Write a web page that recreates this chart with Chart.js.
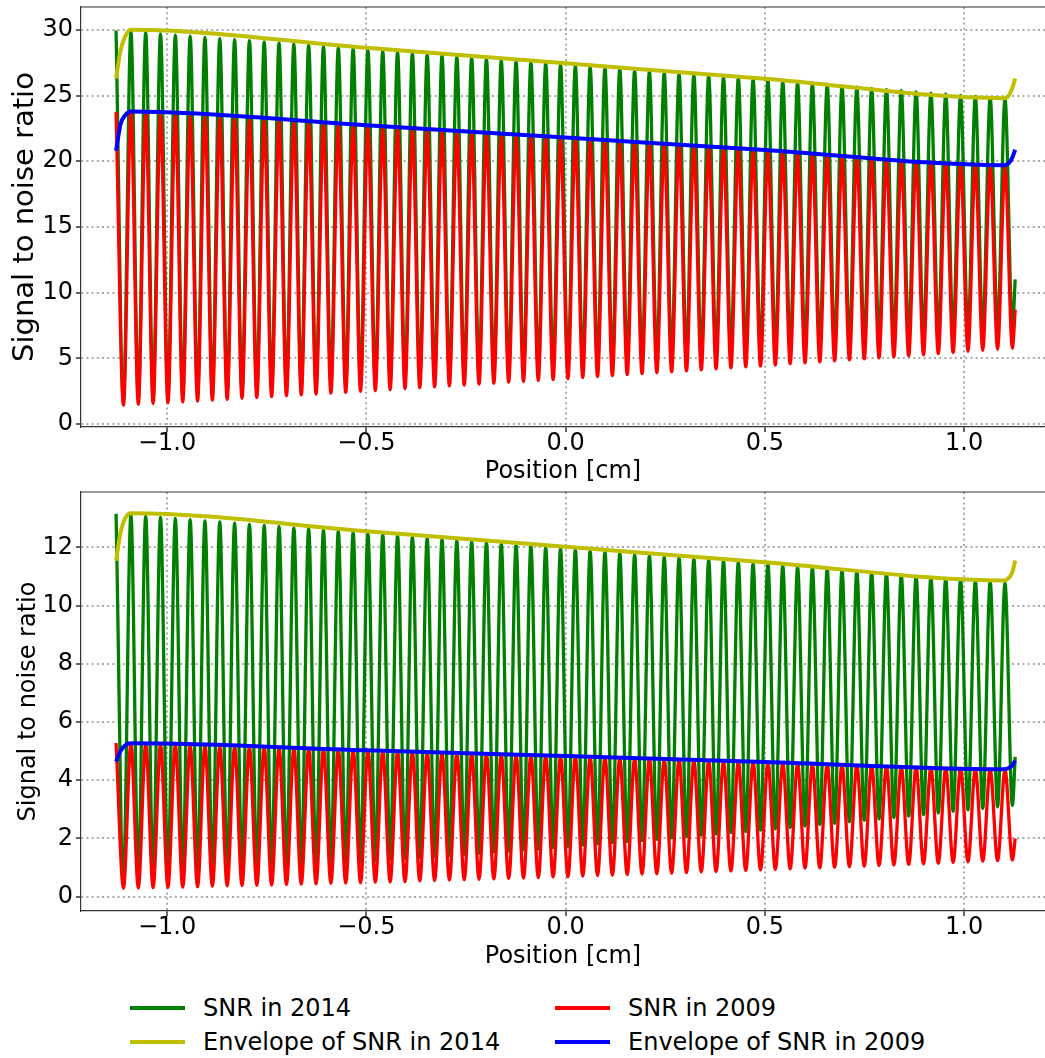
<!DOCTYPE html>
<html>
<head>
<meta charset="utf-8">
<title>Signal to noise ratio along position</title>
<script src="https://cdn.jsdelivr.net/npm/chart.js@4.4.1/dist/chart.umd.min.js"></script>
<style>
  body { margin: 0; background: #fff; overflow: hidden; font-family: "DejaVu Sans", sans-serif; }
  #wrap { position: relative; width: 1045px; height: 1058px; }
  canvas { position: absolute; left: 0; }
  #topPanel { top: 0; }
  #bottomPanel { top: 485px; }
  .item { position: absolute; height: 30px; line-height: 30px; font-size: 24px; color: #000; white-space: nowrap; }
  .swatch { position: absolute; left: 0; width: 55px; }
  .label { position: absolute; left: 73px; top: 0; }
</style>
</head>
<body>
<div id="wrap">
  <canvas id="topPanel" width="1045" height="485"></canvas>
  <canvas id="bottomPanel" width="1045" height="490"></canvas>
  <div id="legend"></div>
</div>
<script>
// positions [cm] of the maxima and minima of the oscillation
const peakX = [
  -1.1280,-1.0908,-1.0537,-1.0165,-0.9793,-0.9421,-0.9050,-0.8678,-0.8306,-0.7934,
  -0.7563,-0.7191,-0.6819,-0.6448,-0.6076,-0.5704,-0.5332,-0.4961,-0.4589,-0.4217,
  -0.3845,-0.3474,-0.3102,-0.2730,-0.2358,-0.1987,-0.1615,-0.1243,-0.0872,-0.0500,
  -0.0128,0.0244,0.0615,0.0987,0.1359,0.1731,0.2102,0.2474,0.2846,0.3217,
  0.3589,0.3961,0.4333,0.4704,0.5076,0.5448,0.5820,0.6191,0.6563,0.6935,
  0.7307,0.7678,0.8050,0.8422,0.8793,0.9165,0.9537,0.9909,1.0280,1.0652,
  1.1024
];
const troughX = [
  -1.1094,-1.0722,-1.0351,-0.9979,-0.9607,-0.9235,-0.8864,-0.8492,-0.8120,-0.7749,
  -0.7377,-0.7005,-0.6633,-0.6262,-0.5890,-0.5518,-0.5146,-0.4775,-0.4403,-0.4031,
  -0.3660,-0.3288,-0.2916,-0.2544,-0.2173,-0.1801,-0.1429,-0.1057,-0.0686,-0.0314,
  0.0058,0.0430,0.0801,0.1173,0.1545,0.1917,0.2288,0.2660,0.3032,0.3403,
  0.3775,0.4147,0.4519,0.4890,0.5262,0.5634,0.6006,0.6377,0.6749,0.7121,
  0.7493,0.7864,0.8236,0.8608,0.8979,0.9351,0.9723,1.0095,1.0466,1.0838,
  1.1210
];
const endX = 1.128;

// upper panel
const snr2014TopPeaks = [
  29.95,29.86,29.78,29.69,29.60,29.52,29.43,29.34,29.26,29.17,
  29.09,29.00,28.91,28.83,28.74,28.65,28.57,28.48,28.39,28.31,
  28.22,28.13,28.05,27.96,27.87,27.79,27.70,27.61,27.53,27.44,
  27.36,27.27,27.18,27.10,27.01,26.92,26.84,26.75,26.66,26.58,
  26.49,26.40,26.32,26.23,26.14,26.06,25.97,25.88,25.80,25.71,
  25.63,25.54,25.45,25.37,25.28,25.19,25.11,25.02,24.93,24.85,
  24.76
];
const snr2014TopTroughs = [
  1.80,1.89,1.97,2.04,2.13,2.21,2.29,2.37,2.46,2.53,
  2.62,2.71,2.78,2.87,2.96,3.04,3.12,3.21,3.30,3.39,
  3.48,3.55,3.64,3.73,3.82,3.91,4.01,4.10,4.18,4.27,
  4.36,4.45,4.55,4.64,4.73,4.83,4.91,5.00,5.10,5.19,
  5.29,5.38,5.48,5.57,5.67,5.77,5.86,5.96,6.06,6.16,
  6.25,6.35,6.45,6.55,6.65,6.75,6.85,6.96,7.06,7.16,
  7.26
];
const snr2009TopPeaks = [
  23.75,23.68,23.61,23.54,23.47,23.40,23.33,23.26,23.19,23.12,
  23.06,22.99,22.92,22.85,22.78,22.71,22.64,22.57,22.50,22.43,
  22.36,22.29,22.22,22.15,22.08,22.01,21.94,21.87,21.80,21.73,
  21.67,21.60,21.53,21.46,21.39,21.32,21.25,21.18,21.11,21.04,
  20.97,20.90,20.83,20.76,20.69,20.62,20.55,20.48,20.41,20.34,
  20.28,20.21,20.14,20.07,20.00,19.93,19.86,19.79,19.72,19.65,
  19.58
];
const snr2009TopTroughs = [
  1.43,1.50,1.56,1.62,1.69,1.75,1.82,1.88,1.95,2.01,
  2.08,2.15,2.21,2.28,2.35,2.41,2.48,2.55,2.62,2.69,
  2.76,2.82,2.89,2.96,3.03,3.10,3.18,3.25,3.32,3.39,
  3.46,3.53,3.61,3.68,3.75,3.83,3.90,3.97,4.05,4.12,
  4.20,4.27,4.35,4.42,4.50,4.58,4.65,4.73,4.81,4.89,
  4.96,5.04,5.12,5.20,5.28,5.36,5.44,5.52,5.60,5.68,
  5.76
];
const snrTopEnd = { y2014: 11.0, y2009: 8.7 };

// lower panel
const snr2014BotPeaks = [
  13.15,13.11,13.07,13.03,12.99,12.95,12.91,12.87,12.83,12.79,
  12.75,12.71,12.67,12.64,12.60,12.56,12.52,12.48,12.44,12.40,
  12.36,12.32,12.28,12.24,12.20,12.16,12.12,12.08,12.04,12.00,
  11.96,11.92,11.88,11.84,11.80,11.76,11.72,11.68,11.65,11.61,
  11.57,11.53,11.49,11.45,11.41,11.37,11.33,11.29,11.25,11.21,
  11.17,11.13,11.09,11.05,11.01,10.97,10.93,10.89,10.85,10.81,
  10.77
];
const snr2014BotTroughs = [
  0.72,0.74,0.77,0.80,0.83,0.86,0.88,0.91,0.94,0.98,
  1.01,1.04,1.07,1.10,1.14,1.17,1.20,1.24,1.27,1.31,
  1.34,1.38,1.42,1.45,1.49,1.53,1.57,1.61,1.64,1.68,
  1.73,1.77,1.81,1.85,1.89,1.93,1.97,2.02,2.06,2.11,
  2.15,2.20,2.24,2.29,2.33,2.38,2.43,2.48,2.52,2.57,
  2.62,2.67,2.72,2.77,2.82,2.88,2.93,2.98,3.03,3.09,
  3.14
];
const snr2009BotPeaks = [
  5.28,5.26,5.25,5.23,5.22,5.20,5.19,5.17,5.16,5.14,
  5.13,5.11,5.10,5.08,5.07,5.05,5.04,5.02,5.00,4.99,
  4.97,4.96,4.94,4.93,4.91,4.90,4.88,4.87,4.85,4.84,
  4.82,4.81,4.79,4.78,4.76,4.74,4.73,4.71,4.70,4.68,
  4.67,4.65,4.64,4.62,4.61,4.59,4.58,4.56,4.55,4.53,
  4.52,4.50,4.48,4.47,4.45,4.44,4.42,4.41,4.39,4.38,
  4.36
];
const snr2009BotTroughs = [
  0.29,0.30,0.31,0.32,0.33,0.34,0.36,0.37,0.38,0.39,
  0.40,0.42,0.43,0.44,0.46,0.47,0.48,0.50,0.51,0.52,
  0.54,0.55,0.57,0.58,0.60,0.61,0.63,0.64,0.66,0.68,
  0.69,0.71,0.73,0.74,0.76,0.78,0.79,0.81,0.83,0.85,
  0.86,0.88,0.90,0.92,0.94,0.96,0.98,0.99,1.01,1.03,
  1.05,1.07,1.09,1.11,1.13,1.15,1.18,1.20,1.22,1.24,
  1.26
];
const snrBotEnd = { y2014: 4.8, y2009: 2.0 };

// envelopes
const envX = [-1.128, -1.117, -1.105, -1.092, -0.5, 0, 0.5, 1.100, 1.112, 1.121, 1.128];
const env2014Top = [26.3, 28.4, 29.5, 30.0, 28.63, 27.45, 26.28, 24.8, 25.0, 25.6, 26.3];
const env2009Top = [20.8, 22.8, 23.5, 23.79, 22.74, 21.8, 20.86, 19.7, 19.85, 20.3, 20.87];
const env2014Bot = [11.54, 12.5, 13.0, 13.17, 12.55, 12.02, 11.49, 10.86, 10.95, 11.15, 11.55];
const env2009Bot = [4.64, 5.0, 5.2, 5.27, 5.03, 4.83, 4.63, 4.38, 4.42, 4.52, 4.67];

const xTicks = [-1.0, -0.5, 0.0, 0.5, 1.0];
const yTicksTop = [0, 5, 10, 15, 20, 25, 30];
const yTicksBot = [0, 2, 4, 6, 8, 10, 12];

const series = [
  { label: 'SNR in 2014', color: '#008000', width: 3.3, order: 4 },
  { label: 'Envelope of SNR in 2014', color: '#bfbf00', width: 4, order: 3 },
  { label: 'SNR in 2009', color: '#ff0000', width: 3.3, order: 2 },
  { label: 'Envelope of SNR in 2009', color: '#0000ff', width: 4, order: 1 }
];

Chart.defaults.font.family = "'DejaVu Sans', sans-serif";
Chart.defaults.color = '#000';

function oscillation(peaks, troughs, endValue) {
  const pts = [];
  for (let i = 0; i < peakX.length; i++) {
    pts.push({ x: peakX[i], y: peaks[i] });
    pts.push({ x: troughX[i], y: troughs[i] });
  }
  pts.push({ x: endX, y: endValue });
  return pts;
}

function envelope(values) {
  return envX.map((x, i) => ({ x: x, y: values[i] }));
}

function makeDataset(s, data) {
  return {
    label: s.label, data: data, order: s.order,
    borderColor: s.color, borderWidth: s.width,
    pointRadius: 0, fill: false,
    cubicInterpolationMode: 'monotone'
  };
}

function fmtX(v) {
  return (v < 0 ? '\u2212' : '') + Math.abs(v).toFixed(1);
}

// top spine of each panel
const frameTop = {
  id: 'frameTop',
  afterDraw(chart) {
    const a = chart.chartArea, ctx = chart.ctx;
    ctx.save();
    ctx.strokeStyle = '#333';
    ctx.lineWidth = 1.2;
    ctx.beginPath();
    ctx.moveTo(a.left, a.top);
    ctx.lineTo(a.right, a.top);
    ctx.stroke();
    ctx.restore();
  }
};

const gridStyle = {
  color: '#aaaaaa', lineWidth: 2,
  tickLength: 5, tickColor: '#000', tickWidth: 1.2, tickBorderDash: []
};
const borderStyle = { display: true, color: '#333', width: 1.2, dash: [2, 3.2] };

function panelOptions(p) {
  return {
    responsive: false,
    animation: false,
    events: [],
    layout: { padding: { top: 7, left: 0, right: 0, bottom: 0 } },
    plugins: { legend: { display: false }, tooltip: { enabled: false } },
    scales: {
      x: {
        type: 'linear', min: -1.216, max: 1.2028,
        afterBuildTicks: s => { s.ticks = xTicks.map(v => ({ value: v })); },
        afterFit: s => { s.height = p.xAxisHeight; s.paddingLeft = 0; s.paddingRight = 0; },
        grid: gridStyle, border: borderStyle,
        ticks: { font: { size: 24, lineHeight: 1 }, padding: 0, maxRotation: 0, autoSkip: false, callback: fmtX },
        title: { display: true, text: 'Position [cm]', font: { size: 24, lineHeight: 1 }, padding: { top: 0, bottom: p.xTitlePad } }
      },
      y: {
        type: 'linear', min: p.yMin, max: p.yMax,
        afterBuildTicks: s => { s.ticks = p.yTicks.map(v => ({ value: v })); },
        afterFit: s => { s.width = 81; s.paddingTop = 0; s.paddingBottom = 0; },
        grid: gridStyle, border: borderStyle,
        ticks: { font: { size: 24, lineHeight: 1 }, padding: 3, autoSkip: false, callback: v => String(v) },
        title: { display: true, text: 'Signal to noise ratio', font: { size: p.yTitleSize }, padding: { top: p.yTitlePad, bottom: 0 } }
      }
    }
  };
}

new Chart(document.getElementById('topPanel'), {
  type: 'line',
  data: {
    datasets: [
      makeDataset(series[0], oscillation(snr2014TopPeaks, snr2014TopTroughs, snrTopEnd.y2014)),
      makeDataset(series[1], envelope(env2014Top)),
      makeDataset(series[2], oscillation(snr2009TopPeaks, snr2009TopTroughs, snrTopEnd.y2009)),
      makeDataset(series[3], envelope(env2009Top))
    ]
  },
  options: panelOptions({ yMin: -0.23, yMax: 31.74, yTicks: yTicksTop, yTitleSize: 29, yTitlePad: 7.6, xAxisHeight: 58, xTitlePad: 1 }),
  plugins: [frameTop]
});

new Chart(document.getElementById('bottomPanel'), {
  type: 'line',
  data: {
    datasets: [
      makeDataset(series[0], oscillation(snr2014BotPeaks, snr2014BotTroughs, snrBotEnd.y2014)),
      makeDataset(series[1], envelope(env2014Bot)),
      makeDataset(series[2], oscillation(snr2009BotPeaks, snr2009BotTroughs, snrBotEnd.y2009)),
      makeDataset(series[3], envelope(env2009Bot))
    ]
  },
  options: panelOptions({ yMin: -0.49, yMax: 13.9, yTicks: yTicksBot, yTitleSize: 24, yTitlePad: 14.6, xAxisHeight: 64, xTitlePad: 6 }),
  plugins: [frameTop]
});

// legend below the lower panel, two columns
const legend = document.getElementById('legend');
const slots = [
  { s: series[0], left: 130, top: 993 },
  { s: series[1], left: 130, top: 1027 },
  { s: series[2], left: 555, top: 993 },
  { s: series[3], left: 555, top: 1027 }
];
slots.forEach(k => {
  const item = document.createElement('div');
  item.className = 'item';
  item.style.left = k.left + 'px';
  item.style.top = k.top + 'px';
  const sw = document.createElement('div');
  sw.className = 'swatch';
  sw.style.top = (15 - k.s.width / 2) + 'px';
  sw.style.height = k.s.width + 'px';
  sw.style.background = k.s.color;
  const lab = document.createElement('span');
  lab.className = 'label';
  lab.textContent = k.s.label;
  item.appendChild(sw);
  item.appendChild(lab);
  legend.appendChild(item);
});
</script>
</body>
</html>
